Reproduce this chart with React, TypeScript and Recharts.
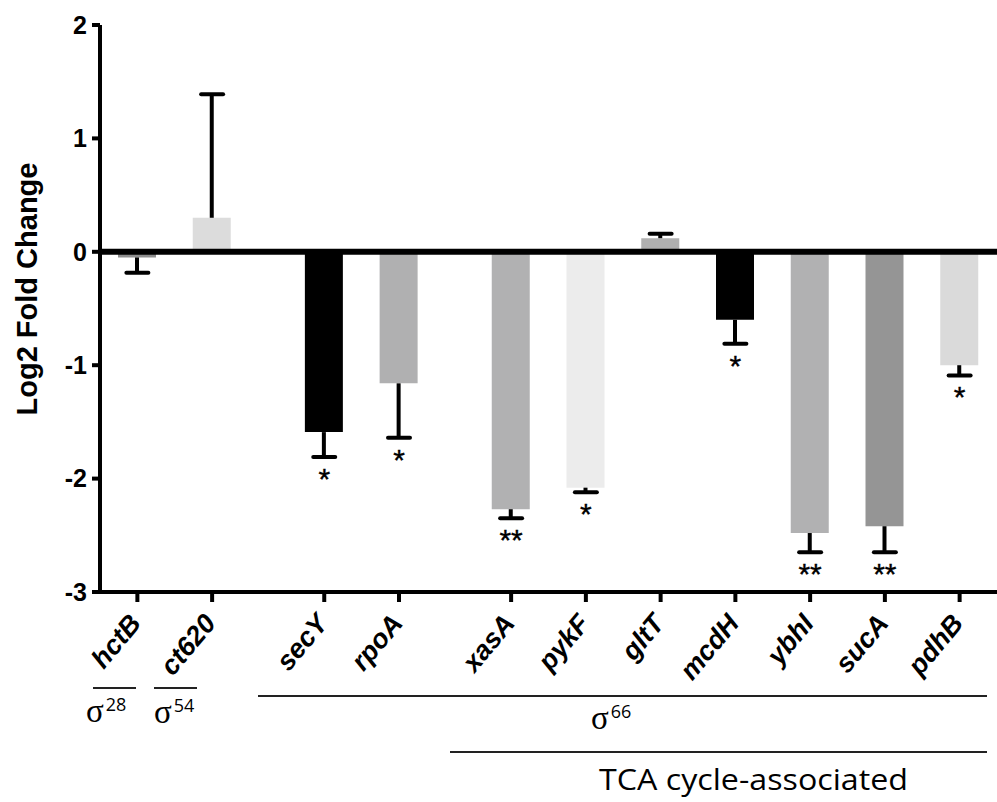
import React from 'react';
import {
  ComposedChart,
  Bar,
  Cell,
  ErrorBar,
  Scatter,
  XAxis,
  YAxis,
  ReferenceLine,
} from 'recharts';

// gene groups: sigma28, sigma54, then sigma66 (last 7 are TCA cycle-associated)
const genes = ['hctB', 'ct620', 'secY', 'rpoA', 'xasA', 'pykF', 'gltT', 'mcdH', 'ybhI', 'sucA', 'pdhB'];
const positions = [0, 1, 2.5, 3.5, 5, 6, 7, 8, 9, 10, 11];
const log2FC = [-0.05, 0.3, -1.59, -1.16, -2.27, -2.08, 0.12, -0.6, -2.48, -2.42, -1.0];
const errorEnds = [-0.185, 1.39, -1.81, -1.64, -2.35, -2.12, 0.16, -0.81, -2.65, -2.65, -1.09];
const stars = ['', '', '*', '*', '**', '*', '', '*', '**', '**', '*'];
const yTicks = [-3, -2, -1, 0, 1, 2];

const COLORS = ['#8e8e8e', '#dcdcdc', '#000000', '#b0b0b1', '#b1b1b2', '#ececec', '#b0b0b0', '#000000', '#b1b1b2', '#959595', '#dadada'];

const data = genes.map((g, i) => ({
  gene: g,
  pos: positions[i],
  value: log2FC[i],
  errEnd: errorEnds[i],
  // one-sided error: [below, above]
  err: log2FC[i] < 0 ? [log2FC[i] - errorEnds[i], 0] : [0, errorEnds[i] - log2FC[i]],
  stars: stars[i],
}));

const labelFont = '"Liberation Sans", Arial, sans-serif';

const GeneTick = (props: any) => {
  const { x, y, payload } = props;
  const idx = positions.indexOf(payload.value);
  return (
    <text
      x={0}
      y={0}
      transform={`translate(${x + 5}, ${y + 22}) rotate(-50)`}
      textAnchor="end"
      fontFamily={labelFont}
      fontWeight="bold"
      fontStyle="italic"
      fontSize={27}
      fill="#000"
    >
      {genes[idx]}
    </text>
  );
};

const Cap = (props: any) => {
  const { cx, cy, payload } = props;
  return (
    <g>
      <line x1={cx - 11} x2={cx + 11} y1={cy} y2={cy} stroke="#000" strokeWidth={4} strokeLinecap="round" />
      {payload.stars && (
        <text x={cx} y={cy + 32} textAnchor="middle" fontFamily={labelFont} fontSize={30} fill="#000" stroke="#000" strokeWidth={0.4}>
          {payload.stars}
        </text>
      )}
    </g>
  );
};

const Sigma = ({ x, y, sub }: { x: number; y: number; sub: string }) => (
  <text x={x} y={y} fill="#000">
    <tspan fontFamily='"Liberation Serif", serif' fontSize={33}>σ</tspan>
    <tspan fontFamily='"Open Sans", sans-serif' fontSize={18} dx={2} dy={-11}>{sub}</tspan>
  </text>
);

export default function App() {
  return (
    <div style={{ position: 'absolute', left: 0, top: 0, width: 997, height: 802, background: '#fff' }}>
      <ComposedChart width={997} height={802} data={data} margin={{ top: 25, right: 0, bottom: 0, left: 0 }}>
        <XAxis
          type="number"
          dataKey="pos"
          domain={[-0.5, 11.5]}
          ticks={positions}
          interval={0}
          height={210}
          axisLine={{ stroke: '#000', strokeWidth: 4 }}
          tickLine={{ stroke: '#000', strokeWidth: 4 }}
          tickSize={10}
          tickMargin={0}
          tick={<GeneTick />}
        />
        <YAxis
          type="number"
          domain={[-3, 2]}
          ticks={yTicks}
          width={100}
          axisLine={{ stroke: '#000', strokeWidth: 4 }}
          tickLine={{ stroke: '#000', strokeWidth: 4 }}
          tickSize={8}
          tickMargin={5}
          tick={{ fill: '#000', fontSize: 25, fontWeight: 'bold', fontFamily: labelFont }}
        />
        <Bar dataKey="value" barSize={38} isAnimationActive={false}>
          {data.map((d, i) => (
            <Cell key={d.gene} fill={COLORS[i]} />
          ))}
          <ErrorBar dataKey="err" width={0} stroke="#000" strokeWidth={4} direction="y" />
        </Bar>
        <Scatter dataKey="errEnd" shape={<Cap />} isAnimationActive={false} />
        <ReferenceLine y={0} stroke="#000" strokeWidth={6} />
      </ComposedChart>

      {/* axis title and group annotations */}
      <svg width={997} height={802} style={{ position: 'absolute', left: 0, top: 0, pointerEvents: 'none' }}>
        <text
          transform="translate(37, 289) rotate(-90)"
          textAnchor="middle"
          fontFamily={labelFont}
          fontWeight="bold"
          fontSize={29}
          fill="#000"
        >
          Log2 Fold Change
        </text>

        <line x1={93} x2={136} y1={688} y2={688} stroke="#222" strokeWidth={2} />
        <Sigma x={86} y={722} sub="28" />

        <line x1={154} x2={197} y1={688} y2={688} stroke="#222" strokeWidth={2} />
        <Sigma x={154} y={723} sub="54" />

        <line x1={258} x2={987} y1={696} y2={696} stroke="#222" strokeWidth={2} />
        <Sigma x={591} y={729} sub="66" />

        <line x1={450} x2={987} y1={752} y2={752} stroke="#222" strokeWidth={2} />
        <text
          x={599}
          y={790}
          fontFamily='"Open Sans", sans-serif'
          fontSize={30}
          textLength={309}
          lengthAdjust="spacingAndGlyphs"
          fill="#000"
        >
          TCA cycle-associated
        </text>
      </svg>
    </div>
  );
}
